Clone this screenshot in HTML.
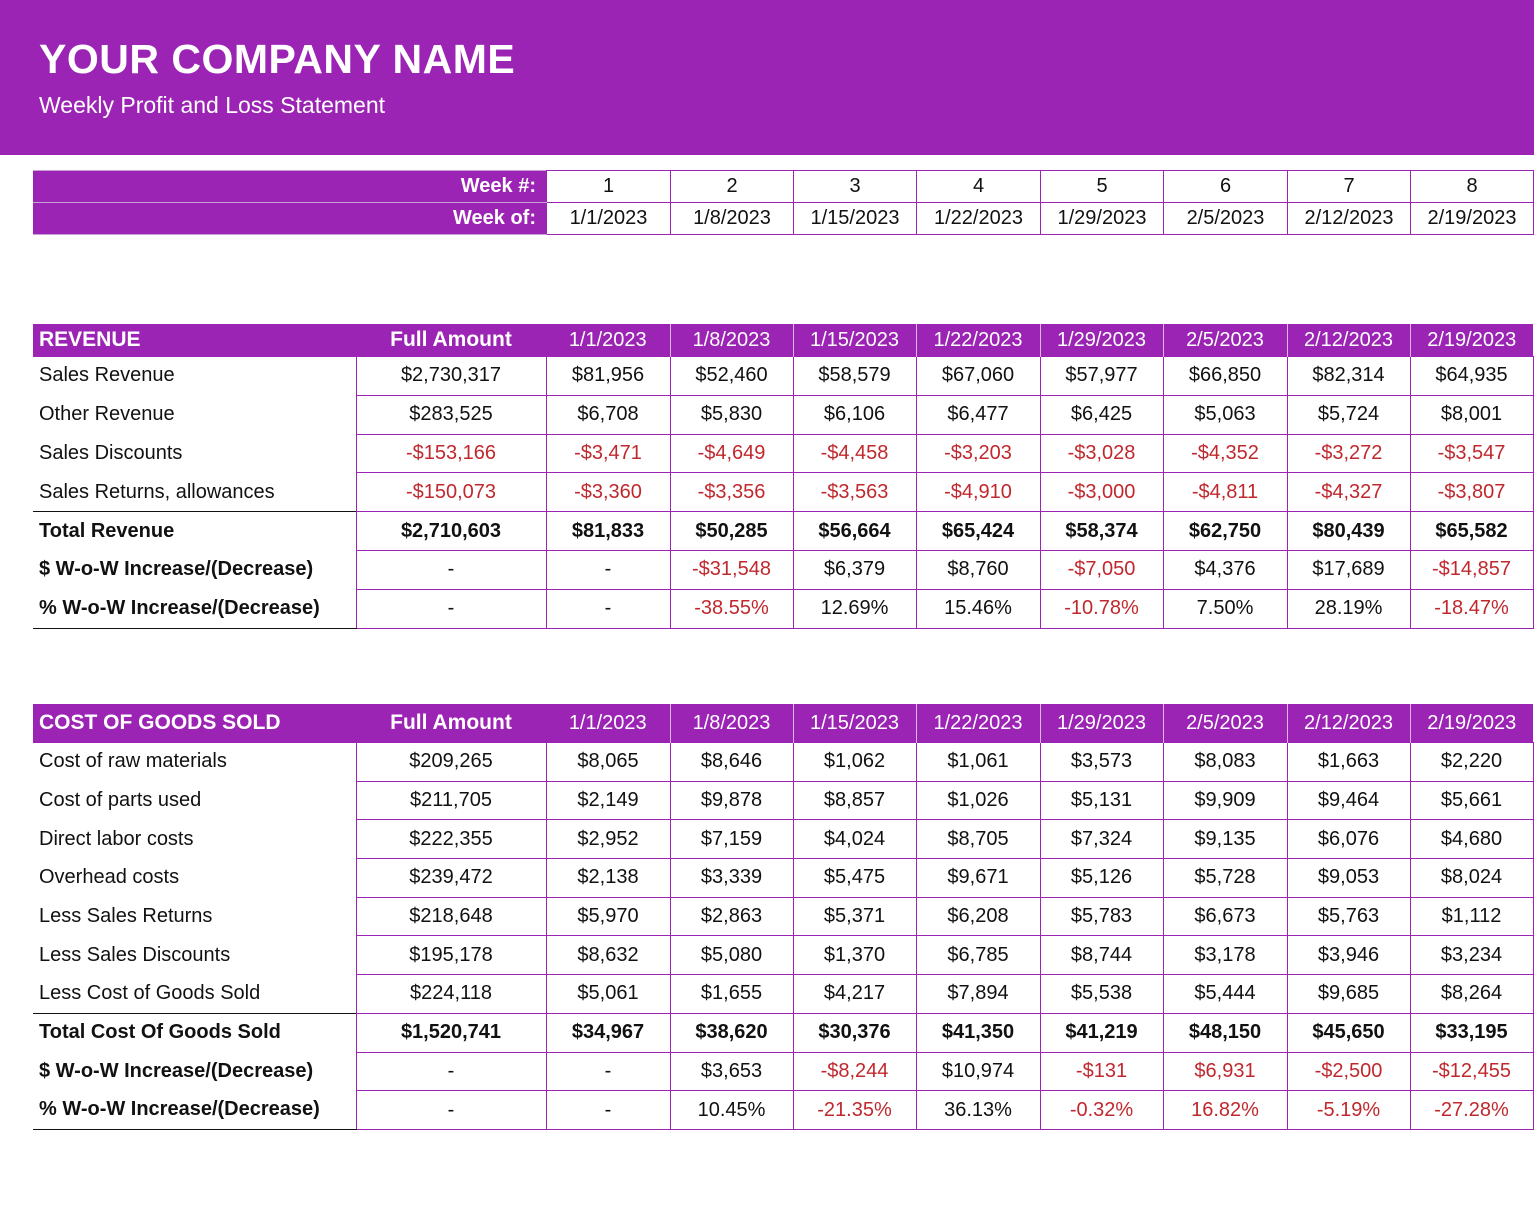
<!DOCTYPE html>
<html><head><meta charset="utf-8">
<style>
body{margin:0;width:1536px;height:1209px;background:#fff;font-family:"Liberation Sans",sans-serif;color:#111;position:relative;overflow:hidden}
.hdr{position:absolute;left:0;top:0;width:1534px;height:155px;background:#9c24b4}
.hdr h1{position:absolute;left:39px;top:36px;margin:0;font-size:41px;font-weight:bold;color:#fff;letter-spacing:0.5px}
.hdr p{position:absolute;left:39px;top:92px;margin:0;font-size:23px;color:#fff}
table{position:absolute;left:33px;border-collapse:collapse;table-layout:fixed;width:1500px;font-size:20px}
td{padding:0;text-align:center;white-space:nowrap;overflow:hidden}
.wk td{height:31px;border:1.5px solid #9c24b4}
.wk td.l{background:#9c24b4;color:#fff;font-weight:bold;text-align:right;padding-right:10px;border-color:#c9a0d6 #9c24b4}
.ph td{background:#9c24b4;color:#fff;height:32px;border:none;border-left:1.5px solid #d8b8e0}
.ph td.n{border-left:none}
.ph td.t{text-align:left;padding-left:6px;font-weight:bold;font-size:21px}
.ph td.f{font-weight:bold;font-size:21px}
.d td{height:37.8px;border:1.5px solid #9c24b4}
.c .d td{height:37.7px}
.d td.l{text-align:left;padding-left:6px;border-left:none;border-top:none;border-bottom:none;border-right:1.5px solid #9c24b4}
.d.tot td{font-weight:bold}
.d.tot td.l{border-top:1.5px solid #111}
.d.last td.l{border-bottom:1.5px solid #111}
.d.b td.l{font-weight:bold}
.r{color:#c0282d}
</style></head><body>
<div class="hdr"><h1>YOUR COMPANY NAME</h1><p>Weekly Profit and Loss Statement</p></div>
<table class="wk" style="top:170px">
<colgroup><col style="width:513px"><col style="width:124px"><col style="width:123px"><col style="width:123px"><col style="width:124px"><col style="width:123px"><col style="width:124px"><col style="width:123px"><col style="width:123px"></colgroup>
<tr><td class="l">Week #:</td><td>1</td><td>2</td><td>3</td><td>4</td><td>5</td><td>6</td><td>7</td><td>8</td></tr>
<tr><td class="l">Week of:</td><td>1/1/2023</td><td>1/8/2023</td><td>1/15/2023</td><td>1/22/2023</td><td>1/29/2023</td><td>2/5/2023</td><td>2/12/2023</td><td>2/19/2023</td></tr>
</table>

<table style="top:324px">
<colgroup><col style="width:323px"><col style="width:190px"><col style="width:124px"><col style="width:123px"><col style="width:123px"><col style="width:124px"><col style="width:123px"><col style="width:124px"><col style="width:123px"><col style="width:123px"></colgroup>
<tr class="ph"><td class="t n">REVENUE</td><td class="f n">Full Amount</td><td class="n">1/1/2023</td><td>1/8/2023</td><td>1/15/2023</td><td>1/22/2023</td><td>1/29/2023</td><td>2/5/2023</td><td>2/12/2023</td><td>2/19/2023</td></tr>
<tr class="d"><td class="l">Sales Revenue</td><td>$2,730,317</td><td>$81,956</td><td>$52,460</td><td>$58,579</td><td>$67,060</td><td>$57,977</td><td>$66,850</td><td>$82,314</td><td>$64,935</td></tr>
<tr class="d"><td class="l">Other Revenue</td><td>$283,525</td><td>$6,708</td><td>$5,830</td><td>$6,106</td><td>$6,477</td><td>$6,425</td><td>$5,063</td><td>$5,724</td><td>$8,001</td></tr>
<tr class="d r"><td class="l" style="color:#111">Sales Discounts</td><td>-$153,166</td><td>-$3,471</td><td>-$4,649</td><td>-$4,458</td><td>-$3,203</td><td>-$3,028</td><td>-$4,352</td><td>-$3,272</td><td>-$3,547</td></tr>
<tr class="d r"><td class="l" style="color:#111">Sales Returns, allowances</td><td>-$150,073</td><td>-$3,360</td><td>-$3,356</td><td>-$3,563</td><td>-$4,910</td><td>-$3,000</td><td>-$4,811</td><td>-$4,327</td><td>-$3,807</td></tr>
<tr class="d tot"><td class="l">Total Revenue</td><td>$2,710,603</td><td>$81,833</td><td>$50,285</td><td>$56,664</td><td>$65,424</td><td>$58,374</td><td>$62,750</td><td>$80,439</td><td>$65,582</td></tr>
<tr class="d b"><td class="l">$ W-o-W Increase/(Decrease)</td><td>-</td><td>-</td><td class="r">-$31,548</td><td>$6,379</td><td>$8,760</td><td class="r">-$7,050</td><td>$4,376</td><td>$17,689</td><td class="r">-$14,857</td></tr>
<tr class="d b last"><td class="l">% W-o-W Increase/(Decrease)</td><td>-</td><td>-</td><td class="r">-38.55%</td><td>12.69%</td><td>15.46%</td><td class="r">-10.78%</td><td>7.50%</td><td>28.19%</td><td class="r">-18.47%</td></tr>
</table>

<table class="c" style="top:704px">
<colgroup><col style="width:323px"><col style="width:190px"><col style="width:124px"><col style="width:123px"><col style="width:123px"><col style="width:124px"><col style="width:123px"><col style="width:124px"><col style="width:123px"><col style="width:123px"></colgroup>
<tr class="ph"><td class="t n" style="height:38.5px">COST OF GOODS SOLD</td><td class="f n">Full Amount</td><td class="n">1/1/2023</td><td>1/8/2023</td><td>1/15/2023</td><td>1/22/2023</td><td>1/29/2023</td><td>2/5/2023</td><td>2/12/2023</td><td>2/19/2023</td></tr>
<tr class="d"><td class="l">Cost of raw materials</td><td>$209,265</td><td>$8,065</td><td>$8,646</td><td>$1,062</td><td>$1,061</td><td>$3,573</td><td>$8,083</td><td>$1,663</td><td>$2,220</td></tr>
<tr class="d"><td class="l">Cost of parts used</td><td>$211,705</td><td>$2,149</td><td>$9,878</td><td>$8,857</td><td>$1,026</td><td>$5,131</td><td>$9,909</td><td>$9,464</td><td>$5,661</td></tr>
<tr class="d"><td class="l">Direct labor costs</td><td>$222,355</td><td>$2,952</td><td>$7,159</td><td>$4,024</td><td>$8,705</td><td>$7,324</td><td>$9,135</td><td>$6,076</td><td>$4,680</td></tr>
<tr class="d"><td class="l">Overhead costs</td><td>$239,472</td><td>$2,138</td><td>$3,339</td><td>$5,475</td><td>$9,671</td><td>$5,126</td><td>$5,728</td><td>$9,053</td><td>$8,024</td></tr>
<tr class="d"><td class="l">Less Sales Returns</td><td>$218,648</td><td>$5,970</td><td>$2,863</td><td>$5,371</td><td>$6,208</td><td>$5,783</td><td>$6,673</td><td>$5,763</td><td>$1,112</td></tr>
<tr class="d"><td class="l">Less Sales Discounts</td><td>$195,178</td><td>$8,632</td><td>$5,080</td><td>$1,370</td><td>$6,785</td><td>$8,744</td><td>$3,178</td><td>$3,946</td><td>$3,234</td></tr>
<tr class="d"><td class="l">Less Cost of Goods Sold</td><td>$224,118</td><td>$5,061</td><td>$1,655</td><td>$4,217</td><td>$7,894</td><td>$5,538</td><td>$5,444</td><td>$9,685</td><td>$8,264</td></tr>
<tr class="d tot"><td class="l">Total Cost Of Goods Sold</td><td>$1,520,741</td><td>$34,967</td><td>$38,620</td><td>$30,376</td><td>$41,350</td><td>$41,219</td><td>$48,150</td><td>$45,650</td><td>$33,195</td></tr>
<tr class="d b"><td class="l">$ W-o-W Increase/(Decrease)</td><td>-</td><td>-</td><td>$3,653</td><td class="r">-$8,244</td><td>$10,974</td><td class="r">-$131</td><td class="r">$6,931</td><td class="r">-$2,500</td><td class="r">-$12,455</td></tr>
<tr class="d b last"><td class="l">% W-o-W Increase/(Decrease)</td><td>-</td><td>-</td><td>10.45%</td><td class="r">-21.35%</td><td>36.13%</td><td class="r">-0.32%</td><td class="r">16.82%</td><td class="r">-5.19%</td><td class="r">-27.28%</td></tr>
</table>
</body></html>
